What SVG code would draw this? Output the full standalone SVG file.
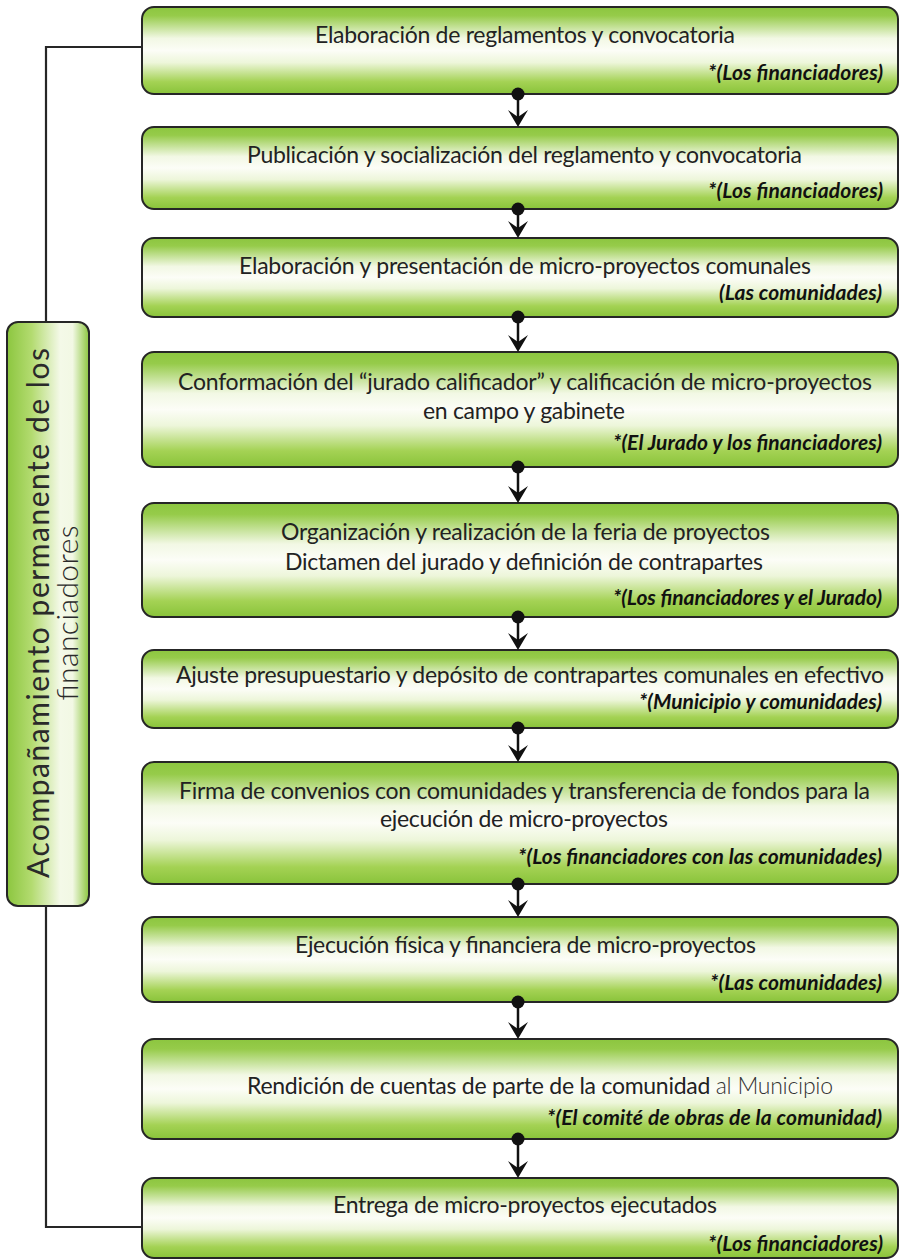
<svg xmlns="http://www.w3.org/2000/svg" width="900" height="1259" viewBox="0 0 900 1259">
<defs>
<linearGradient id="gBox" x1="0" y1="0" x2="0" y2="1">
<stop offset="0" stop-color="#8cc63f"/>
<stop offset="0.1" stop-color="#96cb4a"/>
<stop offset="0.36" stop-color="#f2f8e4"/>
<stop offset="0.5" stop-color="#fcfdf7"/>
<stop offset="0.64" stop-color="#edf6da"/>
<stop offset="0.86" stop-color="#a4d254"/>
<stop offset="1" stop-color="#89c33a"/>
</linearGradient>
<linearGradient id="gBar" x1="0" y1="0" x2="1" y2="0">
<stop offset="0" stop-color="#8cc63f"/>
<stop offset="0.3" stop-color="#b3db70"/>
<stop offset="0.65" stop-color="#f4f9e8"/>
<stop offset="0.8" stop-color="#f2f8e4"/>
<stop offset="1" stop-color="#8cc63f"/>
</linearGradient>
<path id="ah" d="M0,0 L-10,-17 L0,-10 L10,-17 Z"/>
<style>
.box{fill:url(#gBox);stroke:#262626;stroke-width:2}
.bar{fill:url(#gBar);stroke:#262626;stroke-width:2}
.t{font-family:Lato,Carlito,"Liberation Sans",sans-serif;font-size:23px;fill:#222;text-anchor:middle}
.s{font-family:Lato,Carlito,"Liberation Sans",sans-serif;font-size:21px;font-weight:bold;font-style:italic;fill:#111;text-anchor:end}
.lt{font-family:Lato,Carlito,"Liberation Sans",sans-serif;font-size:30px;fill:#2a2a2a;text-anchor:middle}
.ln{fill:none;stroke:#262626;stroke-width:2.2}
.cn{stroke:#111;stroke-width:2.5;fill:none}
.dot{fill:#111}
</style>
</defs>
<rect width="900" height="1259" fill="#ffffff"/>
<g id="n1">
<rect class="box" x="142" y="7" width="756" height="87" rx="12"/>
<text class="t" x="525" y="43" textLength="420">Elaboración de reglamentos y convocatoria</text>
<text class="s" x="883" y="80" textLength="175">*(Los financiadores)</text>
</g>
<g id="n2">
<rect class="box" x="142" y="127" width="756" height="82" rx="12"/>
<text class="t" x="524.5" y="163" textLength="555">Publicación y socialización del reglamento y convocatoria</text>
<text class="s" x="883" y="198" textLength="175">*(Los financiadores)</text>
</g>
<g id="n3">
<rect class="box" x="142" y="238" width="756" height="79" rx="12"/>
<text class="t" x="525" y="274" textLength="572">Elaboración y presentación de micro-proyectos comunales</text>
<text class="s" x="882" y="300" textLength="163">(Las comunidades)</text>
</g>
<g id="n4">
<rect class="box" x="142" y="352" width="756" height="115" rx="12"/>
<text class="t" x="525" y="390" textLength="694">Conformación del “jurado calificador” y calificación de micro-proyectos</text>
<text class="t" x="524" y="419" textLength="202">en campo y gabinete</text>
<text class="s" x="882" y="450" textLength="269">*(El Jurado y los financiadores)</text>
</g>
<g id="n5">
<rect class="box" x="142" y="503" width="756" height="114" rx="12"/>
<text class="t" x="525.5" y="540" textLength="489">Organización y realización de la feria de proyectos</text>
<text class="t" x="524" y="570" textLength="478">Dictamen del jurado y definición de contrapartes</text>
<text class="s" x="882" y="605" textLength="269">*(Los financiadores y el Jurado)</text>
</g>
<g id="n6">
<rect class="box" x="142" y="650" width="756" height="78" rx="12"/>
<text class="t" x="530" y="683" textLength="708">Ajuste presupuestario y depósito de contrapartes comunales en efectivo</text>
<text class="s" x="882" y="709" textLength="243">*(Municipio y comunidades)</text>
</g>
<g id="n7">
<rect class="box" x="142" y="762" width="756" height="122" rx="12"/>
<text class="t" x="524.5" y="799" textLength="691">Firma de convenios con comunidades y transferencia de fondos para la</text>
<text class="t" x="524" y="827" textLength="288">ejecución de micro-proyectos</text>
<text class="s" x="882" y="864" textLength="364">*(Los financiadores con las comunidades)</text>
</g>
<g id="n8">
<rect class="box" x="142" y="917" width="756" height="85" rx="12"/>
<text class="t" x="525.5" y="953" textLength="461">Ejecución física y financiera de micro-proyectos</text>
<text class="s" x="882" y="990" textLength="172">*(Las comunidades)</text>
</g>
<g id="n9">
<rect class="box" x="142" y="1039" width="756" height="100" rx="12"/>
<text class="t" x="540" y="1094" textLength="586">Rendición de cuentas de parte de la comunidad <tspan font-weight="300" fill="#333">al Municipio</tspan></text>
<text class="s" x="882" y="1125" textLength="335">*(El comité de obras de la comunidad)</text>
</g>
<g id="n10">
<rect class="box" x="142" y="1178" width="756" height="80" rx="12"/>
<text class="t" x="525" y="1213" textLength="384">Entrega de micro-proyectos ejecutados</text>
<text class="s" x="883" y="1251" textLength="175">*(Los financiadores)</text>
</g>
<g id="bar">
<rect class="bar" x="7" y="322" width="82" height="584" rx="11"/>
<text class="lt" transform="translate(49,613) rotate(-90)" textLength="530">Acompañamiento permanente de los</text>
<text class="lt" transform="translate(78,613) rotate(-90)" font-weight="300" textLength="175">financiadores</text>
</g>
<g id="connectors">
<path class="ln" d="M142,47 H46 V322"/>
<path class="ln" d="M46,906 V1227 H142"/>
<line class="cn" x1="518" y1="94" x2="518" y2="117"/><circle class="dot" cx="518" cy="94" r="6.5"/><use class="dot" href="#ah" x="518" y="127"/>
<line class="cn" x1="518" y1="209" x2="518" y2="228"/><circle class="dot" cx="518" cy="209" r="6.5"/><use class="dot" href="#ah" x="518" y="238"/>
<line class="cn" x1="518" y1="317" x2="518" y2="342"/><circle class="dot" cx="518" cy="317" r="6.5"/><use class="dot" href="#ah" x="518" y="352"/>
<line class="cn" x1="518" y1="467" x2="518" y2="493"/><circle class="dot" cx="518" cy="467" r="6.5"/><use class="dot" href="#ah" x="518" y="503"/>
<line class="cn" x1="518" y1="617" x2="518" y2="640"/><circle class="dot" cx="518" cy="617" r="6.5"/><use class="dot" href="#ah" x="518" y="650"/>
<line class="cn" x1="518" y1="728" x2="518" y2="752"/><circle class="dot" cx="518" cy="728" r="6.5"/><use class="dot" href="#ah" x="518" y="762"/>
<line class="cn" x1="518" y1="884" x2="518" y2="907"/><circle class="dot" cx="518" cy="884" r="6.5"/><use class="dot" href="#ah" x="518" y="917"/>
<line class="cn" x1="518" y1="1002" x2="518" y2="1029"/><circle class="dot" cx="518" cy="1002" r="6.5"/><use class="dot" href="#ah" x="518" y="1039"/>
<line class="cn" x1="518" y1="1139" x2="518" y2="1168"/><circle class="dot" cx="518" cy="1139" r="6.5"/><use class="dot" href="#ah" x="518" y="1178"/>
</g>
</svg>
